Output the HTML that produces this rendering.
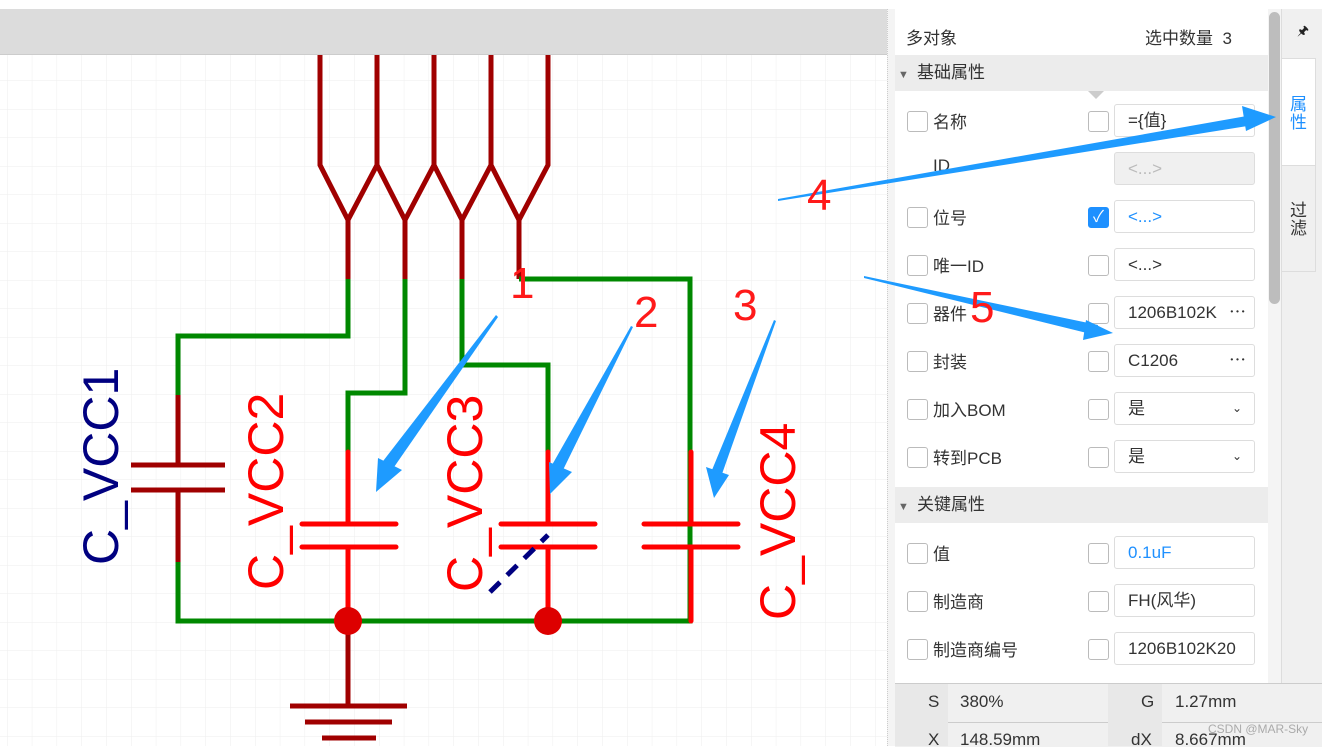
<!DOCTYPE html>
<html><head><meta charset="utf-8"><style>
body{margin:0;width:1322px;height:746px;overflow:hidden;background:#fff;font-family:"Liberation Sans","Noto Sans CJK SC",sans-serif;position:relative}
.abs{position:absolute}
.row{position:absolute;left:895px;width:373px;height:48px;font-size:17px;color:#333}
.cb{position:absolute;width:19px;height:19px;border:1px solid #bbb;border-radius:3px;background:#fff}
.inp{position:absolute;left:219px;width:141px;height:33px;border:1px solid #ddd;border-radius:3px;background:#fff;box-sizing:border-box;padding-left:13px;line-height:31px;font-size:17px;color:#333}
.lbl{position:absolute;left:38px;top:10px}
</style></head><body>
<div class="abs" style="left:0;top:0;width:1322px;height:9px;background:#fff;border-bottom:1px solid #ddd"></div>
<div class="abs" style="left:0;top:9px;width:887px;height:45px;background:#dcdcdc;border-bottom:1px solid #ccc"></div>
<svg class="abs" style="left:0;top:0" width="887" height="746">
<defs><pattern id="g" width="24.8" height="28.5" patternUnits="userSpaceOnUse" x="7" y="52"><path d="M0 0V28.5M0 0H24.8" stroke="#eee" stroke-width="1" fill="none"/></pattern></defs>
<rect x="0" y="55" width="887" height="691" fill="url(#g)"/>
<g stroke="#a00000" stroke-width="5" fill="none" stroke-linejoin="miter">
<path d="M320 55V165L348 220L377 165L405 220L434 165L462 220L491 165L519 220L548 165V55M377 55V165M434 55V165M491 55V165"/>
<path d="M348 220V279M405 220V279M462 220V279M519 220V279"/>
<path d="M178 395V465M178 490V562M131 465H225M131 490H225"/>
<path d="M348 621V706M290 706H407M305 722H392M322 738H376"/>
</g>
<g stroke="#008800" stroke-width="5" fill="none">
<path d="M348 279V336H178V395M178 562V621H690V452M405 279V393H348V452M462 279V365H548V452M519 279H690V452"/>
</g>
<g stroke="#ff0000" stroke-width="5" fill="none" stroke-linecap="round">
<path d="M348 452V524M348 547V621M302 524H396M302 547H396"/>
<path d="M548 452V524M548 547V621M501 524H595M501 547H595"/>
<path d="M691 452V524M691 547V621M644 524H738M644 547H738"/>
</g>
<circle cx="348" cy="621" r="14" fill="#dd0000"/><circle cx="548" cy="621" r="14" fill="#dd0000"/>
<path d="M490 592L548 535" stroke="#000080" stroke-width="5" stroke-dasharray="14 10"/>
<g font-family="Liberation Sans" font-size="50">
<text transform="translate(118,565) rotate(-90)" fill="#000080">C_VCC1</text>
<text transform="translate(283,590) rotate(-90)" fill="#ff0000">C_VCC2</text>
<text transform="translate(482,592) rotate(-90)" fill="#ff0000">C_VCC3</text>
<text transform="translate(795,620) rotate(-90)" fill="#ff0000">C_VCC4</text>
</g>
</svg>
<div class="abs" style="left:887px;top:9px;width:8px;height:737px;background:#f4f4f4;border-left:1px dotted #ccc;border-right:1px solid #ddd"></div>
<div class="abs" style="left:895px;top:9px;width:373px;height:674px;background:#fff"></div>
<div class="abs" style="left:906px;top:24px;font-size:17px;color:#333">多对象</div>
<div class="abs" style="left:1145px;top:24px;font-size:17px;color:#333">选中数量&nbsp;&nbsp;3</div>
<div class="abs" style="left:895px;top:55px;width:373px;height:36px;background:#ececec;font-size:17px;color:#333;line-height:36px"><span style="font-size:11px;color:#666;margin:0 8px 0 0">&nbsp;▼</span>基础属性</div>
<div class="abs" style="left:1088px;top:91px;border-left:8px solid transparent;border-right:8px solid transparent;border-top:8px solid #ccc"></div>
<div class="abs" style="left:895px;top:487px;width:373px;height:36px;background:#ececec;font-size:17px;color:#333;line-height:36px"><span style="font-size:11px;color:#666;margin-right:8px">&nbsp;▼</span>关键属性</div>
<div class="row" style="top:98px"><div class="cb" style="left:12px;top:13px"></div><div class="lbl">名称</div><div class="cb" style="left:193px;top:13px"></div><div class="inp" style="top:6px">={值}</div></div>
<div class="row" style="top:146px"><div class="lbl">ID</div><div class="inp" style="top:6px;background:#f0f0f0;color:#bbb">&lt;...&gt;</div></div>
<div class="row" style="top:194px"><div class="cb" style="left:12px;top:13px"></div><div class="lbl">位号</div><div class="cb" style="left:193px;top:13px;background:#1e90ff;border-color:#1e90ff;color:#fff;font-size:16px;text-align:center;line-height:19px">✓</div><div class="inp" style="top:6px;color:#1e90ff">&lt;...&gt;</div></div>
<div class="row" style="top:242px"><div class="cb" style="left:12px;top:13px"></div><div class="lbl">唯一ID</div><div class="cb" style="left:193px;top:13px"></div><div class="inp" style="top:6px">&lt;...&gt;</div></div>
<div class="row" style="top:290px"><div class="cb" style="left:12px;top:13px"></div><div class="lbl">器件</div><div class="cb" style="left:193px;top:13px"></div><div class="inp" style="top:6px">1206B102K<span style="position:absolute;right:8px">⋯</span></div></div>
<div class="row" style="top:338px"><div class="cb" style="left:12px;top:13px"></div><div class="lbl">封装</div><div class="cb" style="left:193px;top:13px"></div><div class="inp" style="top:6px">C1206<span style="position:absolute;right:8px">⋯</span></div></div>
<div class="row" style="top:386px"><div class="cb" style="left:12px;top:13px"></div><div class="lbl">加入BOM</div><div class="cb" style="left:193px;top:13px"></div><div class="inp" style="top:6px">是<span style="position:absolute;right:12px;font-size:12px">⌄</span></div></div>
<div class="row" style="top:434px"><div class="cb" style="left:12px;top:13px"></div><div class="lbl">转到PCB</div><div class="cb" style="left:193px;top:13px"></div><div class="inp" style="top:6px">是<span style="position:absolute;right:12px;font-size:12px">⌄</span></div></div>
<div class="row" style="top:530px"><div class="cb" style="left:12px;top:13px"></div><div class="lbl">值</div><div class="cb" style="left:193px;top:13px"></div><div class="inp" style="top:6px;color:#1e90ff">0.1uF</div></div>
<div class="row" style="top:578px"><div class="cb" style="left:12px;top:13px"></div><div class="lbl">制造商</div><div class="cb" style="left:193px;top:13px"></div><div class="inp" style="top:6px">FH(风华)</div></div>
<div class="row" style="top:626px"><div class="cb" style="left:12px;top:13px"></div><div class="lbl">制造商编号</div><div class="cb" style="left:193px;top:13px"></div><div class="inp" style="top:6px">1206B102K20</div></div>
<div class="abs" style="left:1268px;top:9px;width:13px;height:674px;background:#f4f4f4"></div>
<div class="abs" style="left:1269px;top:12px;width:11px;height:292px;background:#bdbdbd;border-radius:6px"></div>
<div class="abs" style="left:1281px;top:9px;width:41px;height:674px;background:#f0f0f0;border-left:1px solid #ddd"></div>
<div class="abs" style="left:1297px;top:22px;font-size:13px;color:#222">🖈</div>
<div class="abs" style="left:1281px;top:58px;width:35px;height:108px;background:#fff;border:1px solid #ddd;box-sizing:border-box;color:#1e90ff;font-size:17px;text-align:center;padding-top:37px;line-height:18px">属<br>性</div>
<div class="abs" style="left:1281px;top:166px;width:35px;height:106px;border:1px solid #ddd;border-top:0;box-sizing:border-box;color:#333;font-size:17px;text-align:center;padding-top:36px;line-height:18px">过<br>滤</div>
<div class="abs" style="left:895px;top:683px;width:427px;height:63px;background:#f0f0f0;border-top:1px solid #ccc"></div>
<div class="abs" style="left:895px;top:722px;width:427px;height:1px;background:#ccc"></div>
<div class="abs" style="left:895px;top:684px;width:53px;height:62px;background:#e8e8e8"></div>
<div class="abs" style="left:1108px;top:684px;width:54px;height:62px;background:#e8e8e8"></div>
<div class="abs" style="left:928px;top:692px;font-size:17px;color:#333">S</div>
<div class="abs" style="left:960px;top:692px;font-size:17px;color:#333">380%</div>
<div class="abs" style="left:1141px;top:692px;font-size:17px;color:#333">G</div>
<div class="abs" style="left:1175px;top:692px;font-size:17px;color:#333">1.27mm</div>
<div class="abs" style="left:928px;top:730px;font-size:17px;color:#333">X</div>
<div class="abs" style="left:960px;top:730px;font-size:17px;color:#333">148.59mm</div>
<div class="abs" style="left:1131px;top:730px;font-size:17px;color:#333">dX</div>
<div class="abs" style="left:1175px;top:730px;font-size:17px;color:#333">8.667mm</div>
<div class="abs" style="left:1208px;top:722px;font-size:12px;color:#aaa">CSDN @MAR-Sky</div>
<svg class="abs" style="left:0;top:0" width="1322" height="746">
<g fill="#1e9bff">
<polygon points="496,315 498,317 392,470 380,465"/><polygon points="376,492 378,458 402,470"/>
<polygon points="631,326 633,327 563,470 552,465"/><polygon points="550,494 549,462 572,472"/>
<polygon points="774,320 776,321 722,474 712,470"/><polygon points="714,498 706,467 729,475"/>
<polygon points="778,199 778,201 1260,124 1258,114"/><polygon points="1276,117 1242,106 1246,131"/>
<polygon points="864,276 864,278 1095,335 1098,325"/><polygon points="1113,333 1086,320 1083,340"/>
</g>
<g fill="#ff1a1a" font-family="Liberation Sans" font-size="44">
<text x="510" y="298">1</text><text x="634" y="327">2</text><text x="733" y="320">3</text><text x="807" y="210">4</text><text x="970" y="322">5</text>
</g>
</svg>
</body></html>
